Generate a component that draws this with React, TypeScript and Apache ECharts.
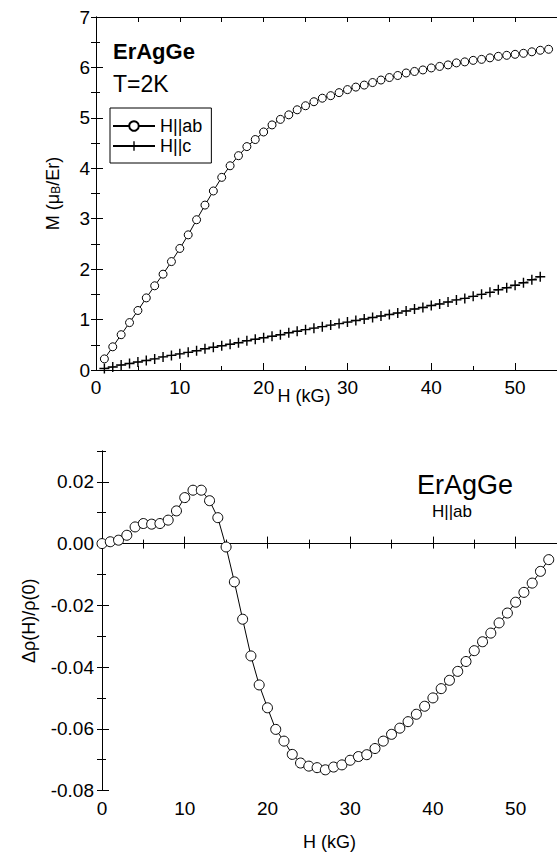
import React, { useEffect, useRef } from "react";
import * as echarts from "echarts";

const FONT = "'Liberation Sans', Arial, Helvetica, sans-serif";

// Magnetization at T = 2 K, field along ab
const fieldAb = [
  1, 2, 3, 4, 5, 6, 7, 8, 9, 10, 11, 12, 13, 14, 15, 16, 17, 18, 19, 20, 21, 22, 23, 24, 25, 26, 27,
  28, 29, 30, 31, 32, 33, 34, 35, 36, 37, 38, 39, 40, 41, 42, 43, 44, 45, 46, 47, 48, 49, 50, 51, 52,
  53, 54,
];
const magAb = [
  0.22, 0.46, 0.7, 0.94, 1.18, 1.43, 1.67, 1.9, 2.15, 2.41, 2.68, 2.98, 3.27, 3.55, 3.82, 4.05, 4.25,
  4.43, 4.57, 4.72, 4.86, 4.97, 5.06, 5.16, 5.24, 5.32, 5.39, 5.44, 5.5, 5.56, 5.61, 5.65, 5.7, 5.75,
  5.8, 5.84, 5.89, 5.92, 5.95, 5.99, 6.02, 6.05, 6.09, 6.11, 6.14, 6.16, 6.19, 6.22, 6.24, 6.26, 6.28,
  6.31, 6.34, 6.36,
];

// Magnetization at T = 2 K, field along c
const fieldC = [
  1, 2, 3, 4, 5, 6, 7, 8, 9, 10, 11, 12, 13, 14, 15, 16, 17, 18, 19, 20, 21, 22, 23, 24, 25, 26, 27,
  28, 29, 30, 31, 32, 33, 34, 35, 36, 37, 38, 39, 40, 41, 42, 43, 44, 45, 46, 47, 48, 49, 50, 51, 52,
  53,
];
const magC = [
  0.03, 0.06, 0.1, 0.13, 0.16, 0.19, 0.22, 0.26, 0.29, 0.32, 0.35, 0.38, 0.42, 0.45, 0.48, 0.51, 0.54,
  0.58, 0.61, 0.64, 0.67, 0.7, 0.74, 0.77, 0.8, 0.83, 0.86, 0.89, 0.92, 0.95, 0.98, 1.01, 1.04, 1.07,
  1.1, 1.13, 1.17, 1.21, 1.24, 1.28, 1.31, 1.35, 1.39, 1.42, 1.46, 1.5, 1.54, 1.59, 1.63, 1.68, 1.73,
  1.79, 1.85,
];

// Magnetoresistance, field along ab
const fieldRho = [
  0, 1, 2, 3, 4, 5, 6, 7, 8, 9, 10, 11, 12, 13, 14, 15, 16, 17, 18, 19, 20, 21, 22, 23, 24, 25, 26,
  27, 28, 29, 30, 31, 32, 33, 34, 35, 36, 37, 38, 39, 40, 41, 42, 43, 44, 45, 46, 47, 48, 49, 50, 51,
  52, 53, 54,
];
const rhoAb = [
  0.0, 0.0006, 0.0011, 0.0027, 0.0054, 0.0065, 0.0063, 0.0065, 0.0076, 0.0106, 0.0149, 0.0173, 0.0173,
  0.0139, 0.0084, -0.0011, -0.0124, -0.0245, -0.0364, -0.0458, -0.0532, -0.0602, -0.064, -0.0683,
  -0.0711, -0.0721, -0.0726, -0.0733, -0.0724, -0.0717, -0.0702, -0.069, -0.0684, -0.0664, -0.064,
  -0.0618, -0.0598, -0.0577, -0.0553, -0.0527, -0.05, -0.047, -0.0443, -0.0414, -0.0382, -0.0347,
  -0.0318, -0.029, -0.0257, -0.0225, -0.019, -0.0158, -0.0128, -0.009, -0.0052,
];

const legendNames = ["H||ab", "H||c"];

const PLUS = "path://M3,0H4V3H7V4H4V7H3V4H0V3H3Z";
const BLACK = "#000";

const pairs = (xs: number[], ys: number[]) => xs.map((x, i) => [x, ys[i]]);

function xAxesFor(grid: number, title?: string) {
  const base = { type: "value", gridIndex: grid, min: 0, max: 55, splitLine: { show: false } };
  return [
    {
      ...base,
      position: "bottom",
      interval: 10,
      axisLine: { show: true, lineStyle: { color: BLACK, width: 1 } },
      axisTick: { show: true, inside: true, length: 7, lineStyle: { color: BLACK } },
      axisLabel: {
        show: true,
        margin: 8,
        color: BLACK,
        fontSize: 19,
        fontFamily: FONT,
        showMaxLabel: false,
      },
      ...(title
        ? {
            name: title,
            nameLocation: "middle",
            nameGap: 42,
            nameTextStyle: { color: BLACK, fontSize: 18, fontFamily: FONT },
          }
        : {}),
    },
    {
      ...base,
      position: "bottom",
      interval: 5,
      axisLine: { show: false },
      axisTick: { show: true, inside: true, length: 4, lineStyle: { color: BLACK } },
      axisLabel: { show: false },
    },
    {
      ...base,
      position: "top",
      interval: 5,
      axisLine: { show: true, lineStyle: { color: BLACK, width: 1 } },
      axisTick: { show: true, inside: true, length: 5, lineStyle: { color: BLACK } },
      axisLabel: { show: false },
    },
  ];
}

export default function App() {
  const ref = useRef<HTMLDivElement>(null);

  useEffect(() => {
    if (!ref.current) return;
    const chart = echarts.init(ref.current, null, { renderer: "svg" });

    const option = {
      animation: false,
      backgroundColor: "#fff",
      textStyle: { fontFamily: FONT, color: BLACK },
      grid: [
        { left: 96, top: 17, width: 462, height: 353 },
        { left: 102, top: 451, width: 459, height: 339.5 },
      ],
      xAxis: [...xAxesFor(0), ...xAxesFor(1, "H (kG)")],
      yAxis: [
        {
          type: "value",
          gridIndex: 0,
          position: "left",
          min: 0,
          max: 7,
          interval: 1,
          splitLine: { show: false },
          axisLine: { show: true, lineStyle: { color: BLACK, width: 1 } },
          axisTick: { show: true, inside: true, length: 7, lineStyle: { color: BLACK } },
          minorTick: { show: true, splitNumber: 2, length: 4, lineStyle: { color: BLACK } },
          axisLabel: { margin: 6, color: BLACK, fontSize: 19, fontFamily: FONT },
          name: "{a|M (μ}{b|B}{a|/Er)}",
          nameLocation: "middle",
          nameGap: 34,
          nameTextStyle: {
            color: BLACK,
            fontFamily: FONT,
            rich: {
              a: { fontSize: 18, fontFamily: FONT, color: BLACK, verticalAlign: "top", lineHeight: 18 },
              b: {
                fontSize: 12,
                fontFamily: FONT,
                color: BLACK,
                verticalAlign: "bottom",
                lineHeight: 12,
                padding: [9, 0, 0, 0],
              },
            },
          },
        },
        {
          type: "value",
          gridIndex: 0,
          position: "right",
          min: 0,
          max: 7,
          interval: 0.5,
          splitLine: { show: false },
          axisLine: { show: true, lineStyle: { color: BLACK, width: 1 } },
          axisTick: { show: true, inside: true, length: 5, lineStyle: { color: BLACK } },
          axisLabel: { show: false },
        },
        {
          type: "value",
          gridIndex: 1,
          position: "left",
          min: -0.08,
          max: 0.03,
          interval: 0.02,
          splitLine: { show: false },
          axisLine: { show: true, lineStyle: { color: BLACK, width: 1 } },
          axisTick: { show: true, inside: true, length: 7, lineStyle: { color: BLACK } },
          axisLabel: {
            margin: 8,
            color: BLACK,
            fontSize: 19,
            fontFamily: FONT,
            showMaxLabel: false,
            formatter: (v: number) => (Math.round(v * 100) / 100).toFixed(2),
          },
          name: "Δρ(H)/ρ(0)",
          nameLocation: "middle",
          nameGap: 64,
          nameTextStyle: { color: BLACK, fontSize: 18, fontFamily: FONT },
        },
        {
          type: "value",
          gridIndex: 1,
          position: "left",
          min: -0.08,
          max: 0.03,
          interval: 0.01,
          splitLine: { show: false },
          axisLine: { show: false },
          axisTick: { show: true, inside: true, length: 4, lineStyle: { color: BLACK } },
          axisLabel: { show: false },
        },
        {
          type: "value",
          gridIndex: 1,
          position: "right",
          min: -0.08,
          max: 0.03,
          interval: 0.01,
          splitLine: { show: false },
          axisLine: { show: true, lineStyle: { color: BLACK, width: 1 } },
          axisTick: { show: true, inside: true, length: 5, lineStyle: { color: BLACK } },
          axisLabel: { show: false },
        },
      ],
      legend: {
        show: true,
        data: legendNames,
        orient: "vertical",
        left: 110,
        top: 108,
        itemWidth: 42,
        itemHeight: 12,
        itemGap: 2,
        padding: [9, 9, 8, 2],
        borderColor: BLACK,
        borderWidth: 1,
        borderRadius: 0,
        textStyle: { fontSize: 18, color: BLACK, fontFamily: FONT },
        selectedMode: false,
      },
      graphic: [
        {
          type: "text",
          x: 113,
          y: 40,
          style: {
            text: "ErAgGe",
            fontSize: 22,
            fontWeight: "bold",
            fontFamily: FONT,
            fill: BLACK,
            align: "left",
            verticalAlign: "top",
          },
        },
        {
          type: "text",
          x: 113,
          y: 72,
          style: {
            text: "T=2K",
            fontSize: 23,
            fontFamily: FONT,
            fill: BLACK,
            align: "left",
            verticalAlign: "top",
          },
        },
        {
          type: "text",
          x: 304,
          y: 396,
          style: {
            text: "H (kG)",
            fontSize: 18,
            fontFamily: FONT,
            fill: BLACK,
            align: "center",
            verticalAlign: "middle",
          },
        },
        {
          type: "text",
          x: 417,
          y: 471,
          style: {
            text: "ErAgGe",
            fontSize: 27,
            fontFamily: FONT,
            fill: BLACK,
            align: "left",
            verticalAlign: "top",
          },
        },
        {
          type: "text",
          x: 432,
          y: 503,
          style: {
            text: "H||ab",
            fontSize: 17,
            fontFamily: FONT,
            fill: BLACK,
            align: "left",
            verticalAlign: "top",
          },
        },
      ],
      series: [
        {
          name: "H||c",
          type: "line",
          xAxisIndex: 0,
          yAxisIndex: 0,
          data: pairs(fieldC, magC),
          symbol: PLUS,
          symbolSize: 10,
          showAllSymbol: true,
          itemStyle: { color: BLACK },
          lineStyle: { color: BLACK, width: 0.6 },
          emphasis: { disabled: true },
        },
        {
          name: "H||ab",
          type: "line",
          xAxisIndex: 0,
          yAxisIndex: 0,
          data: pairs(fieldAb, magAb),
          symbol: "circle",
          symbolSize: 8,
          showAllSymbol: true,
          itemStyle: { color: "#fff", borderColor: BLACK, borderWidth: 1 },
          lineStyle: { color: BLACK, width: 1 },
          emphasis: { disabled: true },
        },
        {
          name: "Δρ/ρ(0) H||ab",
          type: "line",
          xAxisIndex: 3,
          yAxisIndex: 2,
          data: pairs(fieldRho, rhoAb),
          symbol: "circle",
          symbolSize: 10,
          showAllSymbol: true,
          itemStyle: { color: "#fff", borderColor: BLACK, borderWidth: 1 },
          lineStyle: { color: BLACK, width: 1 },
          emphasis: { disabled: true },
        },
      ],
    };

    chart.setOption(option as any);
    return () => chart.dispose();
  }, []);

  return (
    <div
      ref={ref}
      style={{ position: "absolute", left: 0, top: 0, width: 557, height: 859, background: "#fff" }}
    />
  );
}
